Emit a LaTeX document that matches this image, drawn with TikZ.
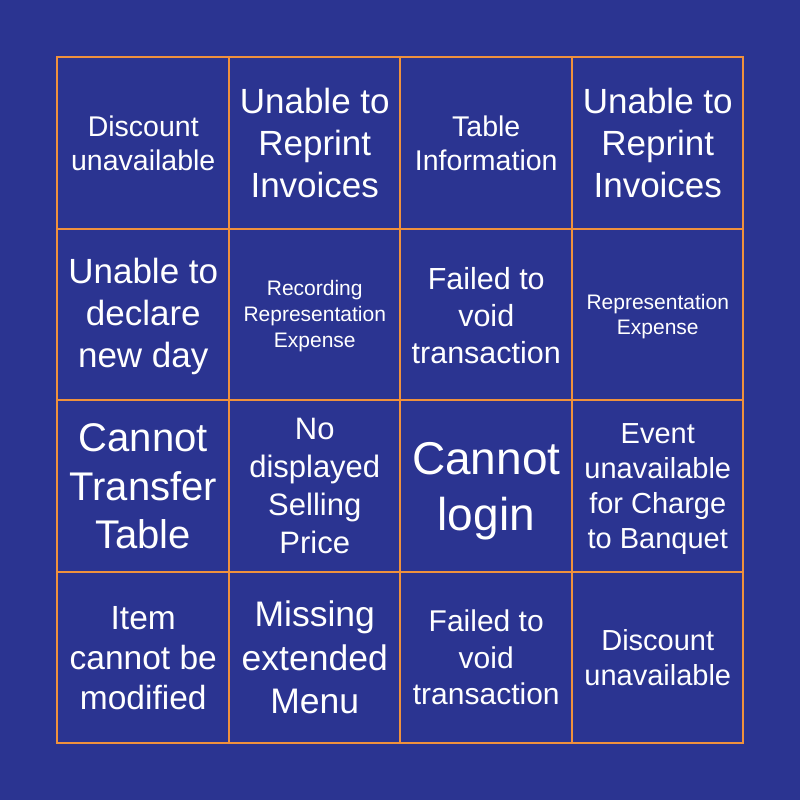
\documentclass[tikz,border=0pt]{standalone}
\usepackage{fontspec}
\setmainfont{Liberation Sans}
\definecolor{bgblue}{RGB}{43,52,145}
\definecolor{gridor}{RGB}{240,145,60}
\begin{document}
\begin{tikzpicture}[x=1pt,y=-1pt,
  cell/.style={text=white,align=center,inner sep=0pt,anchor=center},
  gridline/.style={draw=gridor,line width=2pt}]
\fill[bgblue] (0,0) rectangle (800,800);
\useasboundingbox (0,0) rectangle (800,800);
\def\GL{57.5}\def\GW{171.5}
\foreach \p in {229,400,572}{
  \draw[gridline] (\p,57) -- (\p,743);
  \draw[gridline] (57,\p) -- (743,\p);
}
\draw[gridline] (57,57) rectangle (743,743);
\node[cell,font=\fontsize{28.5}{34}\selectfont] (c11) at ({\GL+0.5*\GW},{\GL+0.5*\GW}) {Discount\\unavailable};
\node[cell,font=\fontsize{35}{42}\selectfont] (c21) at ({\GL+1.5*\GW},{\GL+0.5*\GW}) {Unable to\\Reprint\\Invoices};
\node[cell,font=\fontsize{28.5}{34}\selectfont] (c31) at ({\GL+2.5*\GW},{\GL+0.5*\GW}) {Table\\Information};
\node[cell,font=\fontsize{35}{42}\selectfont] (c41) at ({\GL+3.5*\GW},{\GL+0.5*\GW}) {Unable to\\Reprint\\Invoices};
\node[cell,font=\fontsize{35}{42}\selectfont] (c12) at ({\GL+0.5*\GW},{\GL+1.5*\GW+2}) {Unable to\\declare\\new day};
\node[cell,font=\fontsize{21}{26}\selectfont] (c22) at ({\GL+1.5*\GW},{\GL+1.5*\GW+1}) {Recording\\Representation\\Expense};
\node[cell,font=\fontsize{30.5}{37}\selectfont] (c32) at ({\GL+2.5*\GW},{\GL+1.5*\GW+1}) {Failed to\\void\\transaction};
\node[cell,font=\fontsize{21}{25}\selectfont] (c42) at ({\GL+3.5*\GW},{\GL+1.5*\GW+1.5}) {Representation\\Expense};
\node[cell,font=\fontsize{40}{48.5}\selectfont] (c13) at ({\GL+0.5*\GW},{\GL+2.5*\GW}) {Cannot\\Transfer\\Table};
\node[cell,font=\fontsize{31}{38}\selectfont] (c23) at ({\GL+1.5*\GW},{\GL+2.5*\GW}) {No\\displayed\\Selling\\Price};
\node[cell,font=\fontsize{46}{56}\selectfont] (c33) at ({\GL+2.5*\GW},{\GL+2.5*\GW+4.5}) {Cannot\\login};
\node[cell,font=\fontsize{29}{35}\selectfont] (c43) at ({\GL+3.5*\GW},{\GL+2.5*\GW+3}) {Event\\unavailable\\for Charge\\to Banquet};
\node[cell,font=\fontsize{33.5}{40}\selectfont] (c14) at ({\GL+0.5*\GW},{\GL+3.5*\GW}) {Item\\cannot be\\modified};
\node[cell,font=\fontsize{35.5}{43.5}\selectfont] (c24) at ({\GL+1.5*\GW},{\GL+3.5*\GW}) {Missing\\extended\\Menu};
\node[cell,font=\fontsize{30}{36.5}\selectfont] (c34) at ({\GL+2.5*\GW},{\GL+3.5*\GW}) {Failed to\\void\\transaction};
\node[cell,font=\fontsize{29}{35}\selectfont] (c44) at ({\GL+3.5*\GW},{\GL+3.5*\GW}) {Discount\\unavailable};
\end{tikzpicture}
\end{document}
